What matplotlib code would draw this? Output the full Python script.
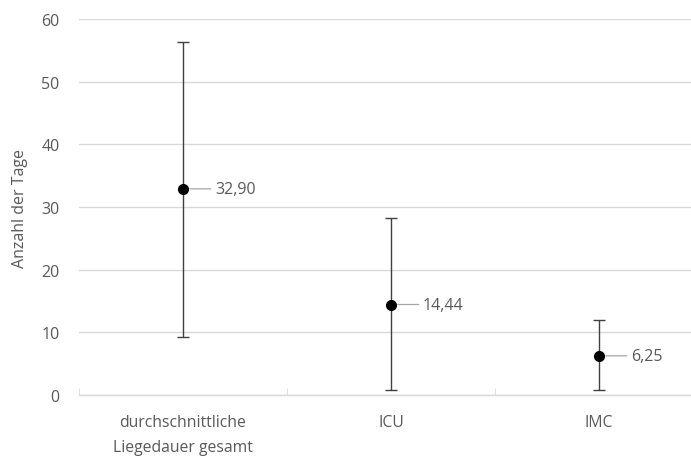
import numpy as np
import matplotlib
matplotlib.use("Agg")
import matplotlib.pyplot as plt

# values
categories = ["durchschnittliche\nLiegedauer gesamt", "ICU", "IMC"]
means = [32.90, 14.44, 6.25]
err_low = [9.25, 0.8, 0.8]
err_high = [56.4, 28.2, 11.9]
labels = ["32,90", "14,44", "6,25"]

plt.rcParams["font.family"] = ["Open Sans", "DejaVu Sans"]
grey = "#595959"

fig = plt.figure(figsize=(6.91, 4.64), dpi=100)
W, H = 691, 464
ax = fig.add_axes([79 / W, (H - 396) / H, (703 - 79) / W, (396 - 20) / H])

x = np.arange(len(categories))
m = np.array(means)
yerr = [m - np.array(err_low), np.array(err_high) - m]
ax.errorbar(x, m, yerr=yerr, fmt="none", ecolor="#404040", elinewidth=1.0,
            capsize=4, capthick=1.0, zorder=3)
ax.plot(x, m, "o", color="black", markersize=7, zorder=4)

for xi, yi, lab in zip(x, m, labels):
    ax.annotate(lab, xy=(xi, yi), xytext=(23, 0), textcoords="offset points",
                ha="left", va="center", fontsize=11.5, color=grey,
                arrowprops=dict(arrowstyle="-", color="#a6a6a6", lw=0.9,
                                shrinkA=1, shrinkB=5))

ax.set_xlim(-0.5, 2.5)
ax.set_ylim(0, 60)
ax.set_yticks(np.arange(0, 61, 10))
ax.set_xticks(x)
ax.set_xticklabels(categories, linespacing=1.75)
ax.set_xticks([-0.5, 0.5, 1.5, 2.5], minor=True)
ax.tick_params(axis="x", which="major", length=0, pad=14, labelsize=11.3, labelcolor=grey)
ax.tick_params(axis="x", which="minor", length=5, color="#d9d9d9", direction="in")
ax.tick_params(axis="y", length=0, pad=14, labelsize=11.5, labelcolor=grey)
ax.grid(axis="y", color="#d9d9d9", lw=1.0)
ax.set_axisbelow(True)
for s in ["top", "right", "left"]:
    ax.spines[s].set_visible(False)
ax.spines["bottom"].set_color("#d9d9d9")
ax.spines["bottom"].set_linewidth(1.0)

ax.set_ylabel("Anzahl der Tage", fontsize=11.5, color=grey)
ax.yaxis.set_label_coords(-(79 - 28) / (703 - 79), 0.5)

fig.savefig("out.png", dpi=100)
